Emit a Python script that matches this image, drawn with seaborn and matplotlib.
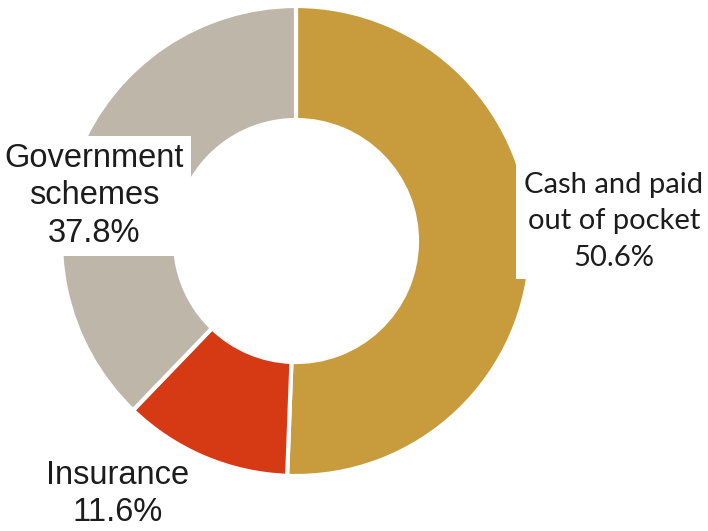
import matplotlib
matplotlib.use("Agg")
import matplotlib.pyplot as plt
import seaborn as sns

sns.set_theme(style="white")
plt.rcParams["font.family"] = ["Liberation Sans", "DejaVu Sans"]

# Share of health spending by source (%)
categories = ["Cash and paid\nout of pocket", "Insurance", "Government\nschemes"]
shares = [50.6, 11.6, 37.8]
colors = ["#C89B3C", "#D53A15", "#BDB6A9"]

W, H = 708, 531
fig = plt.figure(figsize=(W / 100, H / 100), dpi=100)
ax = fig.add_axes([0, 0, 1, 1])

cx, cy, r_out, r_in = 296, H - 241, 235, 121
ax.pie(shares, colors=colors, startangle=90, counterclock=False,
       center=(cx, cy), radius=r_out, frame=True,
       wedgeprops=dict(width=r_out - r_in, edgecolor="white", linewidth=3))
ax.set_xlim(0, W)
ax.set_ylim(0, H)
ax.set_aspect("equal")
ax.axis("off")

label_pos = [(614, 221), (118, 494), (94, 196)]
families = [["Lato", "DejaVu Sans"], ["Liberation Sans"], ["Liberation Sans"]]
sizes = [21, 23.5, 23.5]
spacing = [1.5, 1.25, 1.26]
pads = [0.3, 0.15, 0.22]
for name, val, (x, y), fam, fs, ls, pad in zip(categories, shares, label_pos,
                                               families, sizes, spacing, pads):
    ax.text(x, H - y, f"{name}\n{val:.1f}%", ha="center", va="center",
            fontsize=fs, family=fam, color="#1c1c1c", linespacing=ls,
            bbox=dict(facecolor="white", edgecolor="none",
                      boxstyle=f"square,pad={pad}"), zorder=5)

fig.savefig("out.png", dpi=100)
